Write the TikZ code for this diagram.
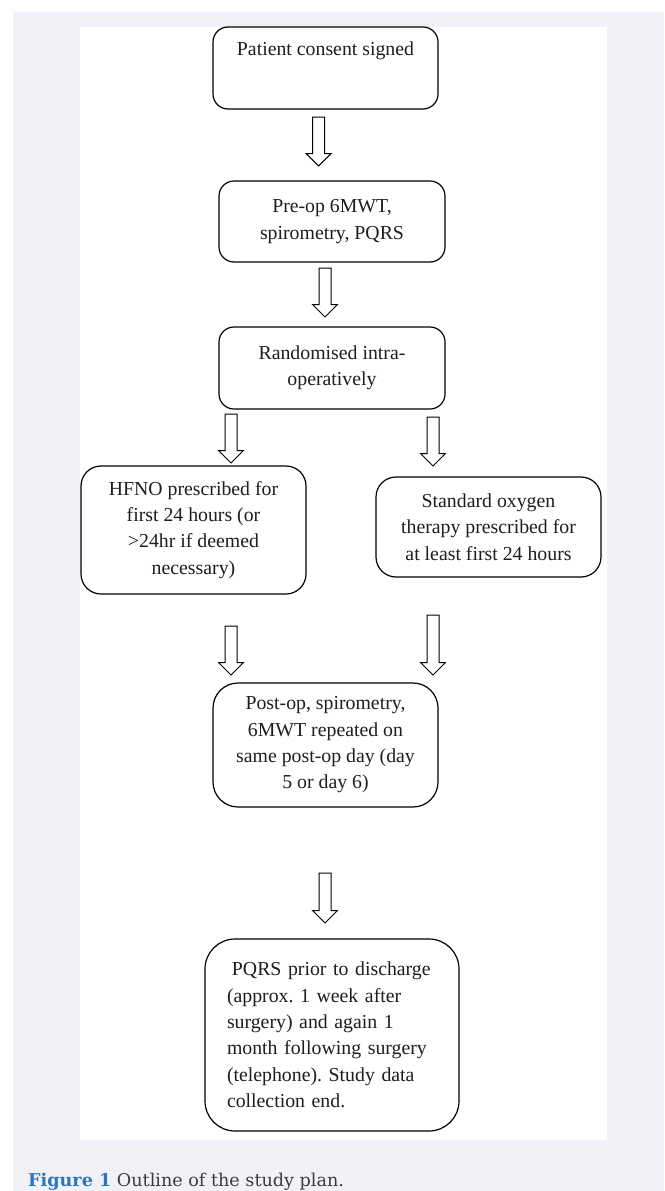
\documentclass[tikz,border=0pt]{standalone}
\usepackage{fontspec}
\setmainfont{Liberation Serif}
\newfontfamily\captionfont{DejaVu Serif}
\usepackage{tikz}
\usetikzlibrary{calc}
\frenchspacing
\definecolor{grisfondo}{RGB}{240,242,247}
\definecolor{azulfigura}{RGB}{47,117,187}
\definecolor{textito}{RGB}{30,30,30}
\definecolor{captito}{RGB}{60,60,60}
\tikzset{
  caja/.style = {draw, line width=1.2pt, rounded corners=15pt, inner sep=0pt, align=center,
    text=textito, font=\fontsize{19.8}{26.3}\selectfont},
  flechahueca/.style = {draw, line width=1pt, fill=white, line join=miter}
}
% block arrow from top of shaft (#1) down to its tip (#2)
\newcommand{\flecha}[2]{%
  \draw[flechahueca] let \p1=(#1), \p2=(#2) in
    (\x1-6pt,\y1) -- (\x1-6pt,\y2+12.5pt) -- (\x1-12.5pt,\y2+12.5pt) -- (\x1,\y2)
    -- (\x1+12.5pt,\y2+12.5pt) -- (\x1+6pt,\y2+12.5pt) -- (\x1+6pt,\y1) -- cycle;}

\begin{document}
\begin{tikzpicture}[x=1pt,y=-1pt]

	\useasboundingbox (0,0) rectangle (664,1191);
	\fill[grisfondo] (13,12) rectangle (664,1191);
	\fill[white] (80,27) rectangle (607,1140);

	\node[caja, minimum width=225pt, minimum height=82pt, text height=14pt, text depth=39pt] (consent) at (325.5,68) {Patient consent signed};
	\node[caja, minimum width=226pt, minimum height=81pt] (preop) at (332,221.5) {Pre-op 6MWT,\\ spirometry, PQRS};
	\node[caja, minimum width=226pt, minimum height=82pt] (random) at (332,368) {Randomised intra-\\ operatively};
	\node[caja, rounded corners=20pt, minimum width=225pt, minimum height=128pt] (hfno) at (193.5,530) {HFNO prescribed for\\ first 24 hours (or\\ >24hr if deemed\\ necessary)};
	\node[caja, rounded corners=20pt, minimum width=225pt, minimum height=100pt] (standard) at (488.5,527) {Standard oxygen\\ therapy prescribed for\\ at least first 24 hours};
	\node[caja, rounded corners=25pt, minimum width=225pt, minimum height=124pt] (postop) at (325.5,745) {Post-op, spirometry,\\ 6MWT repeated on\\ same post-op day (day\\ 5 or day 6)};
	\node[caja, rounded corners=30pt, minimum width=254pt, minimum height=192pt, text width=210pt, align=left] (discharge) at (332,1035)
		{\hspace*{0.25em}PQRS prior to discharge\\ (approx. 1 week after\\ surgery) and again 1\\ month following surgery\\ (telephone). Study data\\ collection end.};

	% arrows between the boxes
	\coordinate (f1a) at (318.6,117); \coordinate (f1b) at (318.6,166);
	\coordinate (f2a) at (325,268);   \coordinate (f2b) at (325,317);
	\coordinate (f3a) at (231,414);   \coordinate (f3b) at (231,463);
	\coordinate (f4a) at (433,417);   \coordinate (f4b) at (433,466);
	\coordinate (f5a) at (231,626);   \coordinate (f5b) at (231,675);
	\coordinate (f6a) at (433,615);   \coordinate (f6b) at (433,675);
	\coordinate (f7a) at (325,873);   \coordinate (f7b) at (325,923);
	\flecha{f1a}{f1b}
	\flecha{f2a}{f2b}
	\flecha{f3a}{f3b}
	\flecha{f4a}{f4b}
	\flecha{f5a}{f5b}
	\flecha{f6a}{f6b}
	\flecha{f7a}{f7b}

	\node[anchor=base west, inner sep=0pt, text=captito, font=\captionfont\fontsize{17.6}{20}\selectfont] (caption) at (28,1186)
		{\textcolor{azulfigura}{\bfseries Figure 1} Outline of the study plan.};

\end{tikzpicture}
\end{document}
